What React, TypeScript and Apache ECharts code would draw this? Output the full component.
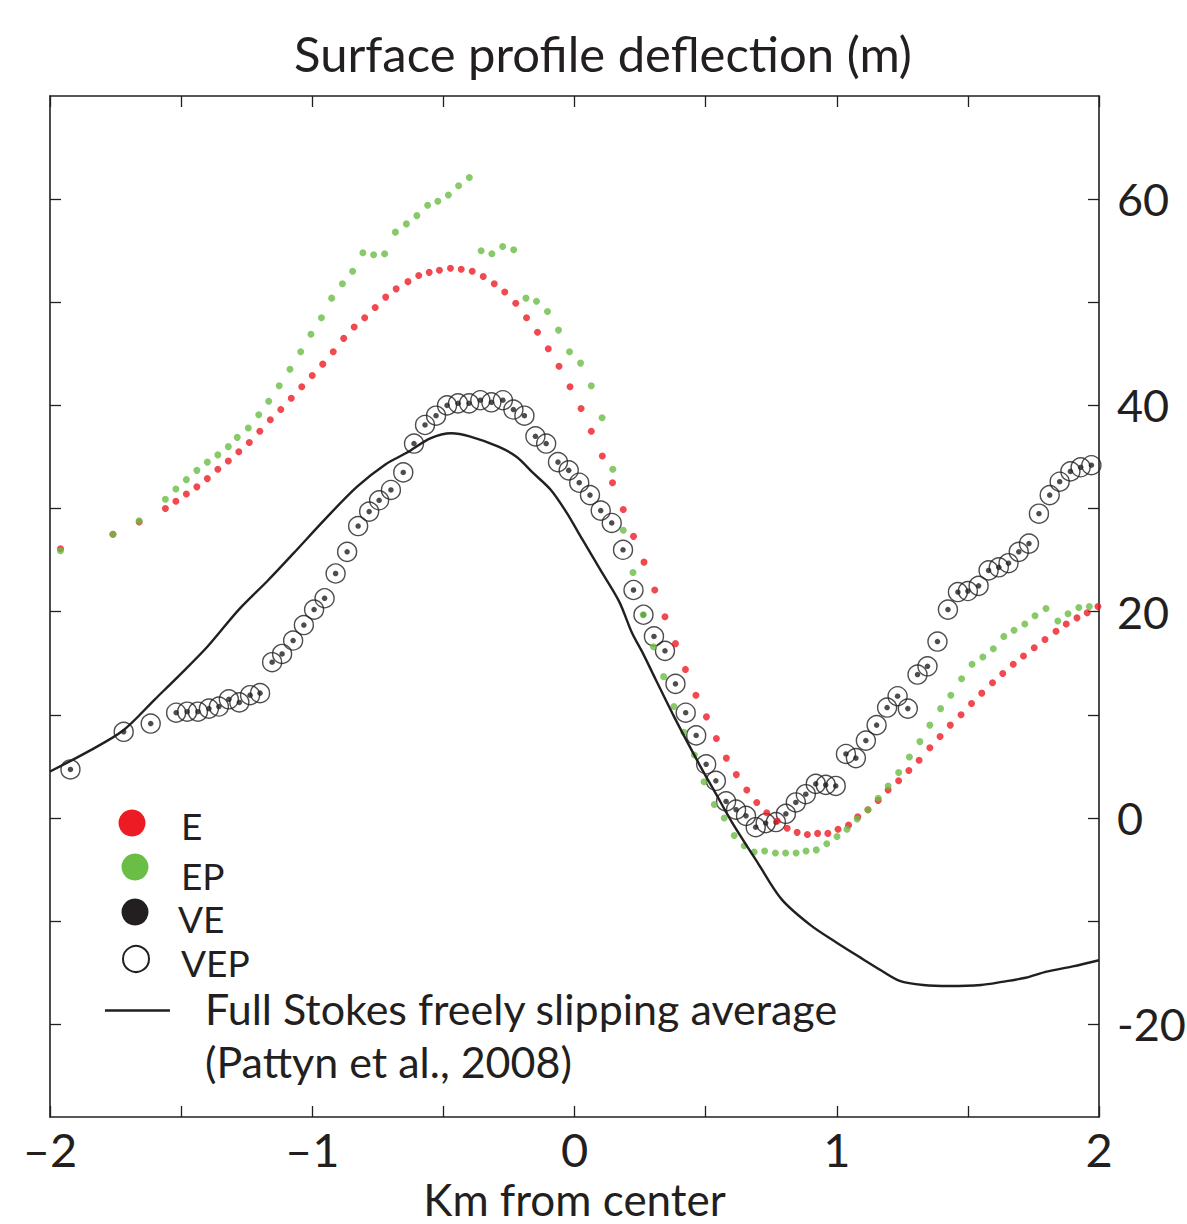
import React, { useEffect, useRef } from 'react';
import * as echarts from 'echarts';

// Full Stokes freely slipping average (Pattyn et al., 2008)
const fullStokes: [number, number][] = [
  [-2.0, 4.5], [-1.85, 6.5], [-1.72, 8.5], [-1.6, 11.5], [-1.5, 14.0], [-1.4, 16.6], [-1.28, 20.2],
  [-1.17, 23.0], [-1.07, 25.7], [-0.95, 29.0], [-0.83, 32.1], [-0.72, 34.3], [-0.64, 35.4], [-0.55, 36.8],
  [-0.47, 37.3], [-0.4, 37.0], [-0.29, 36.0], [-0.22, 35.0], [-0.16, 33.5], [-0.09, 31.8], [-0.03, 29.6],
  [0.03, 27.0], [0.1, 24.0], [0.17, 21.0], [0.22, 17.9], [0.26, 16.0], [0.31, 13.4], [0.38, 9.8],
  [0.48, 5.0], [0.54, 2.3], [0.6, -0.4], [0.7, -4.4], [0.79, -7.9], [0.9, -10.4], [1.0, -12.1],
  [1.1, -13.7], [1.17, -14.8], [1.24, -15.8], [1.33, -16.2], [1.43, -16.3], [1.55, -16.2], [1.63, -15.9],
  [1.72, -15.5], [1.8, -14.9], [1.9, -14.4], [2.0, -13.8],
];

// E (red)
const eData: [number, number][] = [
  [-1.96, 26.1], [-1.76, 27.5], [-1.66, 28.7], [-1.56, 30.0], [-1.52, 30.7], [-1.48, 31.4], [-1.44, 32.1],
  [-1.4, 32.9], [-1.36, 33.8], [-1.32, 34.6], [-1.28, 35.5], [-1.24, 36.4], [-1.2, 37.5], [-1.16, 38.6],
  [-1.12, 39.6], [-1.08, 40.7], [-1.04, 41.8], [-1.0, 42.9], [-0.96, 44.0], [-0.92, 45.2], [-0.88, 46.5],
  [-0.84, 47.6], [-0.8, 48.5], [-0.76, 49.5], [-0.72, 50.5], [-0.68, 51.3], [-0.635, 52.0], [-0.594, 52.6],
  [-0.554, 52.9], [-0.515, 53.1], [-0.473, 53.3], [-0.432, 53.2], [-0.39, 53.0], [-0.348, 52.5],
  [-0.306, 51.8], [-0.266, 51.0], [-0.224, 49.9], [-0.183, 48.5], [-0.141, 47.1], [-0.1, 45.5],
  [-0.059, 43.8], [-0.017, 41.8], [0.025, 39.7], [0.064, 37.5], [0.106, 35.1], [0.145, 32.5],
  [0.186, 29.9], [0.225, 27.3], [0.265, 24.8], [0.306, 22.1], [0.345, 19.5], [0.385, 16.9], [0.423, 14.4],
  [0.463, 11.9], [0.503, 9.8], [0.541, 7.7], [0.579, 5.8], [0.617, 4.2], [0.657, 2.7], [0.695, 1.5],
  [0.733, 0.5], [0.773, -0.3], [0.811, -1.0], [0.849, -1.4], [0.888, -1.6], [0.927, -1.5], [0.966, -1.5],
  [1.005, -1.1], [1.045, -0.7], [1.08, 0.1], [1.119, 0.8], [1.158, 1.7], [1.196, 2.7], [1.236, 3.6],
  [1.275, 4.6], [1.314, 5.6], [1.355, 6.8], [1.394, 7.9], [1.433, 9.0], [1.474, 10.0], [1.514, 11.1],
  [1.553, 12.1], [1.594, 13.1], [1.633, 14.0], [1.673, 14.9], [1.712, 15.7], [1.753, 16.5], [1.794, 17.3],
  [1.836, 18.1], [1.875, 18.8], [1.916, 19.4], [1.955, 19.9], [1.996, 20.5],
];

// EP (green)
const epData: [number, number][] = [
  [-1.96, 25.9], [-1.76, 27.5], [-1.66, 28.8], [-1.56, 30.9], [-1.52, 31.9], [-1.48, 32.8], [-1.44, 33.7],
  [-1.4, 34.5], [-1.36, 35.2], [-1.32, 36.0], [-1.286, 36.9], [-1.244, 37.8], [-1.204, 39.1],
  [-1.166, 40.4], [-1.126, 41.9], [-1.085, 43.5], [-1.044, 45.2], [-1.005, 46.9], [-0.965, 48.5],
  [-0.926, 50.4], [-0.885, 51.8], [-0.846, 53.0], [-0.807, 54.8], [-0.766, 54.6], [-0.724, 54.7],
  [-0.683, 56.8], [-0.641, 57.6], [-0.601, 58.4], [-0.56, 59.4], [-0.521, 59.8], [-0.481, 60.4],
  [-0.442, 61.3], [-0.401, 62.1],
  [-0.356, 55.0], [-0.315, 54.7], [-0.274, 55.4], [-0.232, 55.1],
  [-0.185, 50.4], [-0.145, 50.1], [-0.103, 49.1], [-0.061, 47.3], [-0.019, 45.2], [0.023, 44.1],
  [0.064, 41.9], [0.105, 38.8], [0.146, 33.8], [0.186, 27.9], [0.223, 23.8], [0.262, 19.7], [0.301, 16.6],
  [0.34, 13.7], [0.379, 10.8], [0.417, 8.3], [0.457, 6.1], [0.494, 3.5], [0.533, 1.3], [0.571, 0.0],
  [0.609, -1.7], [0.647, -2.7], [0.685, -3.3], [0.725, -3.2], [0.766, -3.4], [0.805, -3.4], [0.845, -3.4],
  [0.883, -3.2], [0.922, -3.1], [0.962, -2.5], [1.001, -1.8], [1.039, -1.1], [1.078, -0.1], [1.119, 0.8],
  [1.158, 1.9], [1.196, 3.1], [1.236, 4.4], [1.277, 5.9], [1.317, 7.4], [1.355, 9.0], [1.396, 10.6],
  [1.435, 11.9], [1.476, 13.5], [1.516, 14.9], [1.557, 15.6], [1.597, 16.4], [1.637, 17.6], [1.676, 18.2],
  [1.717, 18.8], [1.756, 19.6], [1.798, 20.3], [1.843, 19.1], [1.882, 19.8], [1.923, 20.4], [1.963, 20.5],
];

// VE (filled black dots) and VEP (open circles) coincide
const veData: [number, number][] = [
  [-1.922, 4.7], [-1.719, 8.35], [-1.616, 9.15], [-1.519, 10.2], [-1.477, 10.3], [-1.436, 10.3],
  [-1.394, 10.6], [-1.356, 10.8], [-1.318, 11.5], [-1.278, 11.2], [-1.237, 11.9], [-1.199, 12.1],
  [-1.153, 15.1], [-1.115, 15.9], [-1.073, 17.2], [-1.032, 18.7], [-0.993, 20.2], [-0.953, 21.3],
  [-0.911, 23.7], [-0.867, 25.8], [-0.825, 28.3], [-0.783, 29.7], [-0.745, 30.8], [-0.7, 31.8],
  [-0.653, 33.5], [-0.612, 36.3], [-0.57, 38.1], [-0.528, 39.0], [-0.486, 40.0], [-0.444, 40.2],
  [-0.402, 40.2], [-0.359, 40.5], [-0.317, 40.3], [-0.273, 40.5], [-0.233, 39.6], [-0.191, 39.0],
  [-0.149, 37.0], [-0.108, 36.3], [-0.063, 34.5], [-0.022, 33.7], [0.018, 32.5], [0.059, 31.3],
  [0.1, 29.8], [0.142, 28.6], [0.185, 26.0], [0.225, 22.1], [0.263, 19.7], [0.303, 17.6], [0.345, 16.2],
  [0.385, 13.0], [0.424, 10.2], [0.464, 8.0], [0.502, 5.2], [0.539, 3.6], [0.578, 1.6], [0.616, 0.8],
  [0.654, 0.2], [0.691, -0.9], [0.729, -0.5], [0.768, -0.4], [0.806, 0.4], [0.844, 1.5], [0.882, 2.3],
  [0.92, 3.3], [0.958, 3.2], [0.996, 3.1], [1.035, 6.2], [1.073, 5.8], [1.111, 7.5], [1.152, 9.0],
  [1.192, 10.7], [1.232, 11.8], [1.271, 10.6], [1.308, 13.9], [1.346, 14.7], [1.384, 17.1], [1.424, 20.2],
  [1.462, 21.9], [1.5, 22.0], [1.541, 22.5], [1.579, 24.0], [1.618, 24.3], [1.655, 24.7], [1.694, 25.8],
  [1.733, 26.6], [1.771, 29.5], [1.812, 31.3], [1.85, 32.6], [1.891, 33.6], [1.93, 34.0], [1.971, 34.2],
];
const vepData: [number, number][] = veData;

const xTickValues = [-2, -1.5, -1, -0.5, 0, 0.5, 1, 1.5, 2];
const xLabelValues = [-2, -1, 0, 1, 2];
const yTickValues = [-20, -10, 0, 10, 20, 30, 40, 50, 60];
const yLabelValues = [-20, 0, 20, 40, 60];

const FONT = 'Lato';
const INK = '#231f20';
const RED = '#ed1c24';
const GREEN = '#6abd45';

export default function App() {
  const ref = useRef<HTMLDivElement>(null);
  useEffect(() => {
    if (!ref.current) return;
    const chart = echarts.init(ref.current, undefined, { renderer: 'svg' });
    const axisLine = { show: true, onZero: false, lineStyle: { color: INK, width: 1.6 } };
    const tickStyle = { color: INK, width: 1.3 };
    const xBase = { type: 'value' as const, min: -2, max: 2, splitLine: { show: false } };
    const yBase = { type: 'value' as const, min: -29, max: 70, splitLine: { show: false } };
    const legendText = (text: string, x: number, y: number, size: number) => ({
      type: 'text',
      z: 100,
      x,
      y,
      style: { text, fontFamily: FONT, fontSize: size, fill: INK, verticalAlign: 'middle' },
    });
    chart.setOption({
      animation: false,
      backgroundColor: '#ffffff',
      title: {
        text: 'Surface profile deflection (m)',
        left: 598,
        top: 23,
        textAlign: 'center',
        textStyle: { fontFamily: FONT, fontSize: 49, fontWeight: 'normal', color: INK },
      },
      grid: { left: 50, right: 88, top: 96, bottom: 107, containLabel: false, outerBoundsMode: 'none' },
      xAxis: [
        {
          ...xBase,
          position: 'bottom',
          axisLine,
          axisTick: { inside: true, length: 11, lineStyle: tickStyle, customValues: xTickValues },
          axisLabel: {
            customValues: xLabelValues,
            formatter: (v: number) => (v < 0 ? '\u2013' + Math.abs(v) : String(v)),
            fontFamily: FONT,
            fontSize: 47,
            color: INK,
            margin: 8,
          },
          name: 'Km from center',
          nameLocation: 'middle',
          nameGap: 57,
          nameTextStyle: { fontFamily: FONT, fontSize: 44, color: INK },
        },
        {
          ...xBase,
          position: 'top',
          axisLine,
          axisTick: { inside: true, length: 11, lineStyle: tickStyle, customValues: xTickValues },
          axisLabel: { show: false },
        },
      ],
      yAxis: [
        {
          ...yBase,
          position: 'right',
          axisLine,
          axisTick: { inside: true, length: 11, lineStyle: tickStyle, customValues: yTickValues },
          axisLabel: {
            customValues: yLabelValues,
            fontFamily: FONT,
            fontSize: 45,
            color: INK,
            margin: 18,
          },
        },
        {
          ...yBase,
          position: 'left',
          axisLine,
          axisTick: { inside: true, length: 11, lineStyle: tickStyle, customValues: yTickValues },
          axisLabel: { show: false },
        },
      ],
      series: [
        {
          name: 'Full Stokes freely slipping average',
          type: 'line',
          data: fullStokes,
          showSymbol: false,
          smooth: 0.3,
          lineStyle: { color: INK, width: 2.4 },
        },
        {
          name: 'VEP',
          type: 'scatter',
          data: vepData,
          symbol: 'circle',
          symbolSize: 19,
          itemStyle: { color: 'rgba(0,0,0,0)', borderColor: INK, borderWidth: 1.4 },
        },
        {
          name: 'VE',
          type: 'scatter',
          data: veData,
          symbolSize: 5.5,
          itemStyle: { color: INK },
        },
        {
          name: 'E',
          type: 'scatter',
          data: eData,
          symbolSize: 7,
          itemStyle: { color: RED },
        },
        {
          name: 'EP',
          type: 'scatter',
          data: epData,
          symbolSize: 7,
          itemStyle: { color: GREEN },
        },
      ],
      graphic: [
        { type: 'circle', z: 100, shape: { cx: 132, cy: 823, r: 13.5 }, style: { fill: RED } },
        { type: 'circle', z: 100, shape: { cx: 135, cy: 867, r: 13.5 }, style: { fill: GREEN } },
        { type: 'circle', z: 100, shape: { cx: 135, cy: 912, r: 13.5 }, style: { fill: INK } },
        { type: 'circle', z: 100, shape: { cx: 136, cy: 959, r: 13 }, style: { fill: '#fff', stroke: INK, lineWidth: 2 } },
        { type: 'line', z: 100, shape: { x1: 105, y1: 1010.5, x2: 170, y2: 1010.5 }, style: { stroke: INK, lineWidth: 2.4 } },
        legendText('E', 181, 825, 37),
        legendText('EP', 181, 875, 37),
        legendText('VE', 178, 918, 37),
        legendText('VEP', 181, 962, 37),
        legendText('Full Stokes freely slipping average', 205, 1008, 43),
        legendText('(Pattyn et al., 2008)', 205, 1061, 43),
      ],
    });
    return () => chart.dispose();
  }, []);
  return (
    <div
      ref={ref}
      style={{ position: 'absolute', left: 0, top: 0, width: 1187, height: 1224, background: '#fff' }}
    />
  );
}
